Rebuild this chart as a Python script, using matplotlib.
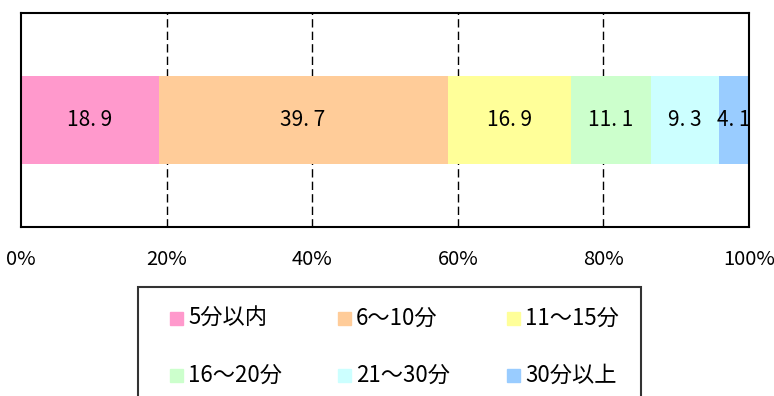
import matplotlib
matplotlib.use("Agg")
import matplotlib.pyplot as plt
from matplotlib.patches import Rectangle

plt.rcParams['font.family'] = ['Noto Sans CJK JP', 'DejaVu Sans']

# commute time shares (%)
categories = ['5分以内', '6～10分', '11～15分', '16～20分', '21～30分', '30分以上']
shares = [18.9, 39.7, 16.9, 11.1, 9.3, 4.1]
colors = ['#FF99CC', '#FFCC99', '#FFFF99', '#CCFFCC', '#CCFFFF', '#99CCFF']
ticks = [0, 20, 40, 60, 80, 100]
tick_labels = ['0%', '20%', '40%', '60%', '80%', '100%']

fig = plt.figure(figsize=(7.74, 3.96), dpi=100)
ax = fig.add_axes([0.0271, 0.4268, 0.9406, 0.5404])

left = 0
for cat, val, col in zip(categories, shares, colors):
    ax.barh(0, val, left=left, height=0.407, color=col, zorder=2)
    ax.text(left + val / 2, 0, f'{val:.1f}'.replace('.', '. '),
            ha='center', va='center', fontsize=15, zorder=3)
    left += val

ax.set_xlim(0, 100)
ax.set_ylim(-0.5, 0.5)
ax.set_xticks(ticks)
ax.set_xticklabels(tick_labels, fontsize=14.5)
ax.set_yticks([])
ax.tick_params(axis='x', length=0, pad=16)
for t in ticks[1:-1]:
    ax.axvline(t, color='black', lw=1, ls=(0, (6, 3)), zorder=1)
for s in ax.spines.values():
    s.set_linewidth(1.5)
    s.set_color('black')

# legend box, running past the bottom edge
W, H = 774, 396
fig.patches.append(Rectangle((138 / W, -0.1), (641 - 138) / W, 0.1 + (H - 287) / H,
                             transform=fig.transFigure, fill=False,
                             edgecolor='#333333', lw=1.5))
col_x = [170, 338, 507]
row_y = [318, 375]
for i, (cat, col) in enumerate(zip(categories, colors)):
    x = col_x[i % 3]
    y = row_y[i // 3]
    fig.patches.append(Rectangle((x / W, (H - y - 6.5) / H), 13 / W, 13 / H,
                                 transform=fig.transFigure, color=col))
    fig.text((x + 18) / W, (H - y) / H, cat, ha='left', va='center', fontsize=16)

fig.savefig('out.png', dpi=100)
